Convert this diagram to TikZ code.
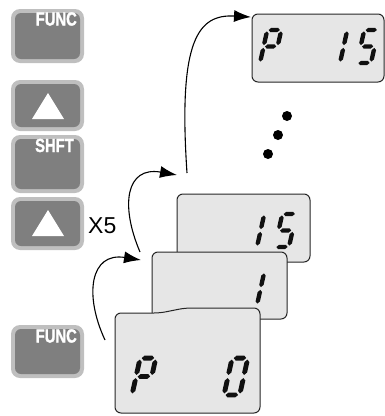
\documentclass[tikz,border=0pt]{standalone}
\usepackage{fontspec}
\newfontfamily\lsans{Liberation Sans}
\newfontfamily\keyfont{Liberation Sans}[BoldFeatures={FakeBold=1.6}]
\usetikzlibrary{arrows.meta}
\definecolor{btnouter}{HTML}{BFBFBF}
\definecolor{btninner}{HTML}{7F7F7F}
\definecolor{lcd}{HTML}{E6E6E6}
\definecolor{segc}{HTML}{101010}
\newcommand\hs[3]{\fill[segc] (#1,#3) -- (#1+2.2,#3+2.2) -- (#2-2.2,#3+2.2) -- (#2,#3) -- (#2-2.2,#3-2.2) -- (#1+2.2,#3-2.2) -- cycle;}
\newcommand\vs[3]{\fill[segc] (#1,#2) -- (#1+2.2,#2+2.2) -- (#1+2.2,#3-2.2) -- (#1,#3) -- (#1-2.2,#3-2.2) -- (#1-2.2,#2+2.2) -- cycle;}
\newcommand\sgA{\hs{1.4}{12.6}{33}}
\newcommand\sgB{\vs{14}{17.9}{31.6}}
\newcommand\sgC{\vs{14}{1.4}{15.1}}
\newcommand\sgD{\hs{1.4}{12.6}{0}}
\newcommand\sgE{\vs{0}{1.4}{15.1}}
\newcommand\sgF{\vs{0}{17.9}{31.6}}
\newcommand\sgG{\hs{1.4}{12.6}{16.5}}
\newcommand\segdigit[4]{\begin{scope}[shift={(#1,#2)},x=#3pt,y=#3pt,xslant=0.22] #4 \end{scope}}
\newcommand\dP{\sgA\sgB\sgF\sgG\sgE}
\newcommand\dZero{\sgA\sgB\sgC\sgD\sgE\sgF}
\newcommand\dOne{\sgB\sgC}
\newcommand\dFive{\sgA\sgF\sgG\sgC\sgD}
\newcommand\keybtn[2]{%
  \fill[btnouter, rounded corners=9pt] (11,#1) rectangle (84,#2);
  \fill[btninner, rounded corners=6pt] (15,#1+4) rectangle (80,#2-4);}
\tikzset{
  lcdbox/.style={fill=lcd, draw=black!85, line width=1pt, rounded corners=6pt},
  keylabel/.style={text=white, inner sep=0pt, anchor=base east, xscale=0.78,
    font=\keyfont\bfseries\fontsize{19}{19}\selectfont},
  flow/.style={line width=1.1pt, -{Latex[length=17pt,width=12pt]}},
  dotmark/.style={fill=black}
}
\begin{document}
\begin{tikzpicture}[x=1pt,y=-1pt]
\useasboundingbox (0,0) rectangle (385,416);
% keys
\keybtn{9}{63}
\node[keylabel] (func1) at (77,25.5) {FUNC};
\keybtn{80}{131}
\fill[white] (48,93) -- (64,119) -- (32,119) -- cycle;
\keybtn{135}{193}
\node[keylabel] (shft) at (74,152) {SHFT};
\keybtn{197}{250}
\fill[white] (48,210) -- (64,236) -- (32,236) -- cycle;
\node[font=\lsans\fontsize{23}{23}\selectfont, inner sep=0pt, anchor=base west] (x5) at (88,233) {X5};
\keybtn{325}{378}
\node[keylabel] (func2) at (77,342.5) {FUNC};
% displays
\draw[lcdbox] (252,14) rectangle (384,82);
\segdigit{260}{63}{1}{\dP}
\segdigit{326}{63}{1}{\dOne}
\segdigit{357}{63}{1}{\dFive}
\draw[lcdbox] (177,194) rectangle (310,262);
\segdigit{243}{247}{1}{\dOne}
\segdigit{275}{247}{1}{\dFive}
\draw[lcdbox] (152,252) rectangle (287,319);
\segdigit{243}{305}{1}{\dOne}
\draw[lcdbox] (115,413) -- (115,313) -- (160,313) -- (185,308) -- (260,308) -- (260,413) -- cycle;
\segdigit{132}{395}{1.12}{\dP}
\segdigit{224}{395}{1.12}{\dZero}
% dots
\fill[dotmark] (287,116) circle (5);
\fill[dotmark] (278,135) circle (5);
\fill[dotmark] (268,154) circle (5);
% arrows
\coordinate (a1s) at (105,340);
\coordinate (a1e) at (141,260);
\coordinate (a2s) at (140,252);
\coordinate (a2e) at (177,175);
\coordinate (a3s) at (187,173);
\coordinate (a3e) at (251,17);
\draw[flow] (a1s) .. controls (84,295) and (90,252) .. (a1e);
\draw[flow] (a2s) .. controls (120,205) and (126,166) .. (a2e);
\draw[flow] (a3s) .. controls (178,40) and (198,14) .. (a3e);
\end{tikzpicture}
\end{document}
